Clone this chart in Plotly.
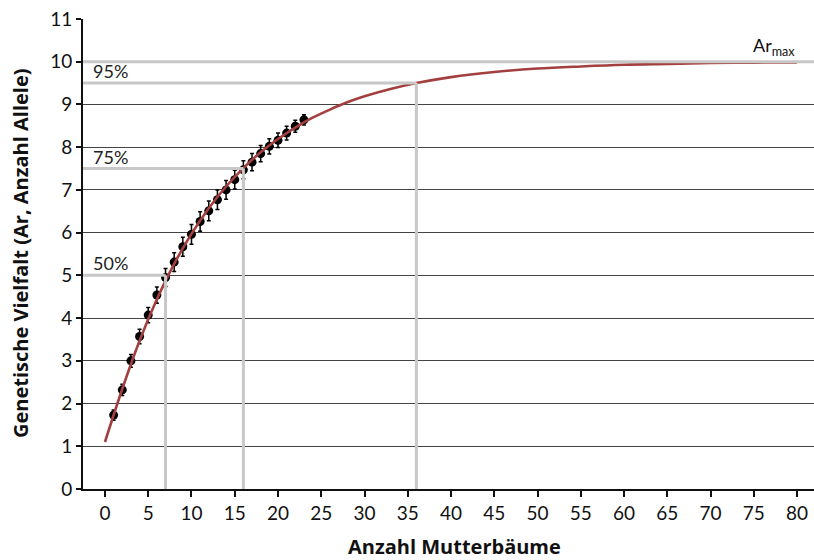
import plotly.graph_objects as go

# Observed data (mean allelic richness per number of mother trees)
n_trees = list(range(1, 24))
ar_obs = [1.73, 2.32, 3.00, 3.57, 4.07, 4.54, 4.95, 5.31, 5.67, 5.96, 6.26, 6.51,
          6.77, 7.00, 7.24, 7.47, 7.65, 7.85, 8.02, 8.16, 8.33, 8.49, 8.64]
ar_err = [0.12, 0.13, 0.15, 0.17, 0.18, 0.19, 0.21, 0.22, 0.22, 0.23, 0.23, 0.23,
          0.23, 0.22, 0.22, 0.21, 0.2, 0.19, 0.18, 0.17, 0.16, 0.14, 0.12]

# Fitted curve
fit_x = [0, 2, 4, 6, 8, 10, 12, 14, 16, 18, 20, 22, 24, 26, 28, 30, 33, 36,
         40, 45, 50, 55, 60, 65, 70, 75, 80]
fit_y = [1.1, 2.34, 3.47, 4.44, 5.27, 5.97, 6.57, 7.08, 7.51, 7.88, 8.19, 8.46,
         8.69, 8.88, 9.05, 9.19, 9.36, 9.50, 9.64, 9.76, 9.84, 9.89, 9.93, 9.95,
         9.97, 9.98, 9.985]

# Reference levels
ref_labels = ["50%", "75%", "95%"]
ref_y = [5.0, 7.5, 9.5]
ref_x = [7, 16, 36]
ar_max = 10

x_ticks = list(range(0, 85, 5))
y_ticks = list(range(0, 12))

X_MIN, X_MAX = -2.54, 81.96
GRAY = "#c8c8c8"
TICK_FONT = "Lato, Open Sans, sans-serif"
TITLE_FONT = "Open Sans, sans-serif"

fig = go.Figure()

shapes = []
for lab, yv, xv in zip(ref_labels, ref_y, ref_x):
    shapes.append(dict(type="line", xref="x", yref="y", x0=X_MIN, x1=xv, y0=yv, y1=yv,
                       line=dict(color=GRAY, width=3), layer="above"))
    shapes.append(dict(type="line", xref="x", yref="y", x0=xv, x1=xv, y0=0, y1=yv,
                       line=dict(color=GRAY, width=3), layer="above"))
shapes.append(dict(type="line", xref="x", yref="y", x0=X_MIN, x1=X_MAX, y0=ar_max, y1=ar_max,
                   line=dict(color=GRAY, width=3), layer="above"))

fig.add_trace(go.Scatter(
    x=n_trees, y=ar_obs, mode="markers",
    marker=dict(color="black", size=9),
    error_y=dict(type="data", array=ar_err, color="black", thickness=1.5, width=2),
    showlegend=False))

fig.add_trace(go.Scatter(
    x=fit_x, y=fit_y, mode="lines", line=dict(color="#a3403f", width=2.6, shape="spline"),
    showlegend=False))

annotations = []
for lab, yv in zip(ref_labels, ref_y):
    annotations.append(dict(x=-1.6, y=yv, xref="x", yref="y", text=lab, showarrow=False,
                            xanchor="left", yanchor="bottom", yshift=-1,
                            font=dict(size=18, color="#222", family=TICK_FONT)))
annotations.append(dict(x=80, y=ar_max, xref="x", yref="y", text="Ar<sub>max</sub>",
                        showarrow=False, xanchor="right", yanchor="bottom", yshift=1,
                        font=dict(size=18, color="#111", family=TICK_FONT)))
annotations.append(dict(x=(454 - 83) / (814 - 83), y=-(546 - 489) / 470, xref="paper", yref="paper",
                        text="<b>Anzahl Mutterbäume</b>",
                        showarrow=False, xanchor="center", yanchor="middle",
                        font=dict(size=20, color="#111", family=TITLE_FONT)))
annotations.append(dict(x=(20 - 83) / (814 - 83), y=(489 - 253) / 470, xref="paper", yref="paper",
                        text="<b>Genetische Vielfalt (Ar, Anzahl Allele)</b>", textangle=-90,
                        showarrow=False, xanchor="center", yanchor="middle",
                        font=dict(size=20, color="#111", family=TITLE_FONT)))

fig.update_layout(
    width=814, height=560,
    margin=dict(l=83, r=0, t=19, b=71),
    plot_bgcolor="white", paper_bgcolor="white",
    shapes=shapes, annotations=annotations,
    xaxis=dict(range=[X_MIN, X_MAX], tickmode="array", tickvals=x_ticks,
               ticks="outside", ticklen=6, tickwidth=1.5, tickcolor="#111",
               showline=True, linecolor="#111", linewidth=2, showgrid=False, zeroline=False,
               tickfont=dict(size=19, color="#111", family=TICK_FONT)),
    yaxis=dict(range=[0, 11], tickmode="array", tickvals=y_ticks,
               ticks="outside", ticklen=5, tickwidth=1.5, tickcolor="#111",
               showline=True, linecolor="#111", linewidth=2,
               showgrid=True, gridcolor="#444", gridwidth=1, zeroline=False,
               tickfont=dict(size=19, color="#111", family=TICK_FONT)),
)

fig.write_html("out.html", config={"displayModeBar": False},
               post_script="document.body.style.margin='0';document.body.style.overflow='hidden';")
